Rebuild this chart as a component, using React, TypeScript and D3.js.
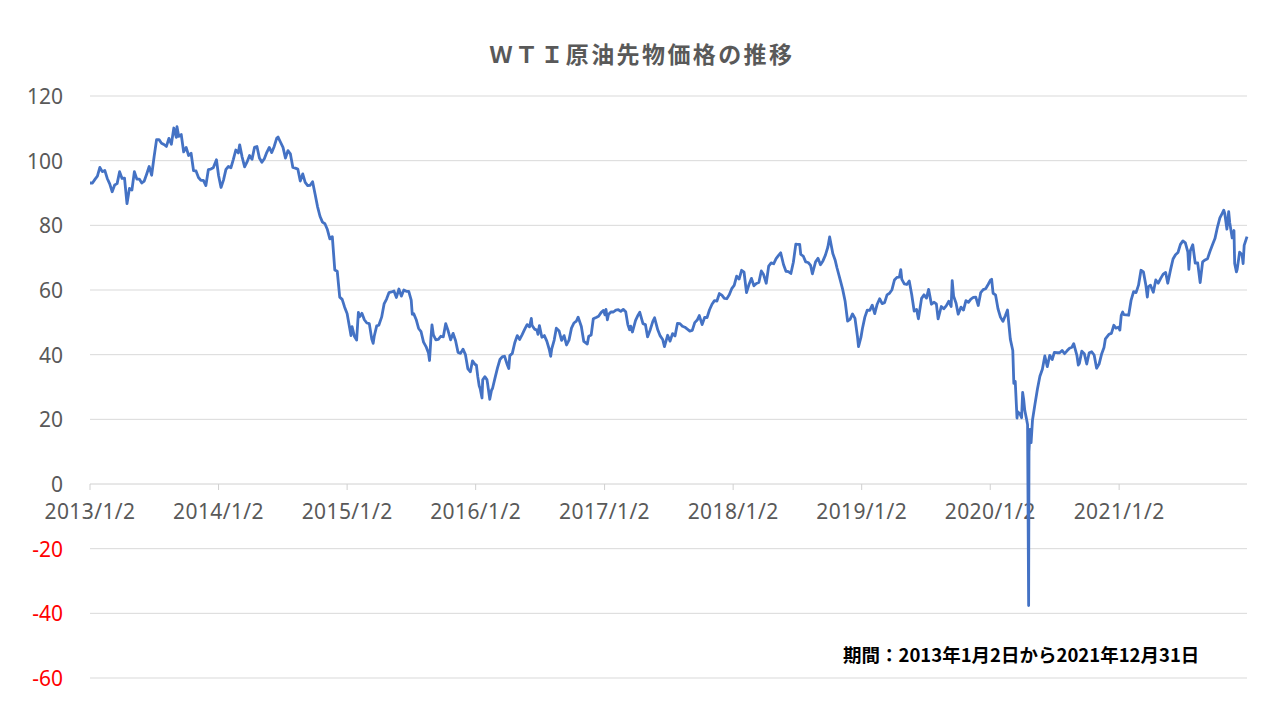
import React from 'react';
import * as d3 from 'd3';

// chart text
const chartTitle = 'ＷＴＩ原油先物価格の推移';
const periodNote = '期間：2013年1月2日から2021年12月31日';

// axes
const yTickValues = [-60, -40, -20, 0, 20, 40, 60, 80, 100, 120];
const xTickDates = [
  '2013-01-02', '2014-01-02', '2015-01-02', '2016-01-02', '2017-01-02',
  '2018-01-02', '2019-01-02', '2020-01-02', '2021-01-02',
];
const xTickLabels = [
  '2013/1/2', '2014/1/2', '2015/1/2', '2016/1/2', '2017/1/2',
  '2018/1/2', '2019/1/2', '2020/1/2', '2021/1/2',
];
const firstDay = '2013-01-02';
const lastDay = '2021-12-31';

type Pt = [string, number];

// WTI front-month price (USD/bbl), read off the reference roughly weekly
const wti2013: Pt[] = [
  ['2013-01-02', 93.1], ['2013-01-09', 93.1], ['2013-01-16', 94.2], ['2013-01-23', 95.2],
  ['2013-01-30', 97.9], ['2013-02-06', 96.6], ['2013-02-13', 97.0], ['2013-02-20', 94.5],
  ['2013-02-27', 92.8], ['2013-03-06', 90.4], ['2013-03-13', 92.5], ['2013-03-20', 92.9],
  ['2013-03-27', 96.6], ['2013-04-03', 94.5], ['2013-04-10', 94.6], ['2013-04-17', 86.7],
  ['2013-04-24', 91.4], ['2013-05-01', 90.9], ['2013-05-08', 96.6], ['2013-05-15', 94.3],
  ['2013-05-22', 94.3], ['2013-05-29', 93.1], ['2013-06-05', 93.7], ['2013-06-12', 95.9],
  ['2013-06-19', 98.2], ['2013-06-26', 95.5], ['2013-07-03', 101.2], ['2013-07-10', 106.5],
  ['2013-07-17', 106.5], ['2013-07-24', 105.4], ['2013-07-31', 105.0], ['2013-08-07', 104.4],
  ['2013-08-14', 106.9], ['2013-08-21', 105.1], ['2013-08-28', 110.1], ['2013-09-04', 107.2],
  ['2013-09-06', 110.5], ['2013-09-11', 107.5], ['2013-09-18', 108.1], ['2013-09-25', 102.7],
  ['2013-10-02', 104.1], ['2013-10-09', 101.6], ['2013-10-16', 102.3], ['2013-10-23', 96.9],
  ['2013-10-30', 96.8], ['2013-11-06', 94.8], ['2013-11-13', 93.9], ['2013-11-20', 93.9],
  ['2013-11-27', 92.3], ['2013-12-04', 97.2], ['2013-12-11', 97.4], ['2013-12-18', 97.8],
  ['2013-12-27', 100.3],
];

const wti2014: Pt[] = [
  ['2014-01-02', 95.4], ['2014-01-09', 91.7], ['2014-01-16', 94.0], ['2014-01-23', 97.3],
  ['2014-01-30', 98.2], ['2014-02-06', 97.8], ['2014-02-13', 100.4], ['2014-02-20', 103.3],
  ['2014-02-27', 102.4], ['2014-03-03', 104.9], ['2014-03-10', 101.1], ['2014-03-17', 98.1],
  ['2014-03-24', 99.6], ['2014-03-31', 101.6], ['2014-04-07', 100.4], ['2014-04-14', 104.1],
  ['2014-04-21', 104.4], ['2014-04-28', 100.8], ['2014-05-05', 99.5], ['2014-05-12', 100.6],
  ['2014-05-19', 102.6], ['2014-05-26', 104.1], ['2014-06-02', 102.5], ['2014-06-09', 104.4],
  ['2014-06-16', 106.9], ['2014-06-20', 107.3], ['2014-06-27', 105.7], ['2014-07-04', 104.1],
  ['2014-07-11', 100.8], ['2014-07-18', 103.1], ['2014-07-25', 102.1], ['2014-08-01', 97.9],
  ['2014-08-08', 97.7], ['2014-08-15', 97.4], ['2014-08-22', 93.7], ['2014-08-29', 95.9],
  ['2014-09-05', 93.3], ['2014-09-12', 92.3], ['2014-09-19', 92.4], ['2014-09-26', 93.5],
  ['2014-10-03', 89.7], ['2014-10-10', 85.8], ['2014-10-17', 82.8], ['2014-10-24', 81.0],
  ['2014-10-31', 80.5], ['2014-11-07', 78.7], ['2014-11-14', 75.8], ['2014-11-21', 76.5],
  ['2014-11-28', 66.2], ['2014-12-05', 65.8], ['2014-12-12', 57.8], ['2014-12-19', 57.1],
  ['2014-12-26', 54.7], ['2014-12-31', 53.3],
];

const wti2015: Pt[] = [
  ['2015-01-02', 52.7], ['2015-01-09', 48.4], ['2015-01-13', 45.9], ['2015-01-16', 48.7],
  ['2015-01-23', 45.6], ['2015-01-29', 44.5], ['2015-02-03', 53.1], ['2015-02-06', 51.7],
  ['2015-02-13', 52.8], ['2015-02-20', 50.8], ['2015-02-27', 49.8], ['2015-03-06', 49.6],
  ['2015-03-13', 44.8], ['2015-03-17', 43.5], ['2015-03-20', 45.7], ['2015-03-27', 48.9],
  ['2015-04-02', 49.1], ['2015-04-10', 51.6], ['2015-04-17', 55.7], ['2015-04-24', 57.2],
  ['2015-05-01', 59.2], ['2015-05-08', 59.4], ['2015-05-15', 59.7], ['2015-05-22', 57.7],
  ['2015-05-29', 60.3], ['2015-06-05', 58.1], ['2015-06-12', 60.0], ['2015-06-19', 59.6],
  ['2015-06-26', 59.6], ['2015-07-03', 56.9], ['2015-07-06', 52.5], ['2015-07-10', 52.7],
  ['2015-07-17', 50.9], ['2015-07-24', 48.1], ['2015-07-31', 47.1], ['2015-08-07', 43.9],
  ['2015-08-14', 42.5], ['2015-08-21', 40.5], ['2015-08-24', 38.2], ['2015-08-28', 45.2],
  ['2015-08-31', 49.2], ['2015-09-04', 46.1], ['2015-09-11', 44.6], ['2015-09-18', 44.7],
  ['2015-09-25', 45.7], ['2015-10-02', 45.5], ['2015-10-09', 49.6], ['2015-10-16', 47.3],
  ['2015-10-23', 44.6], ['2015-10-30', 46.6], ['2015-11-06', 44.3], ['2015-11-13', 40.7],
  ['2015-11-20', 40.4], ['2015-11-27', 41.7], ['2015-12-04', 40.0], ['2015-12-11', 35.6],
  ['2015-12-18', 34.7], ['2015-12-24', 38.1], ['2015-12-31', 37.0],
];

const wti2016: Pt[] = [
  ['2016-01-04', 36.8], ['2016-01-08', 33.2], ['2016-01-12', 30.4], ['2016-01-15', 29.4],
  ['2016-01-20', 26.6], ['2016-01-22', 32.2], ['2016-01-28', 33.2], ['2016-02-03', 32.3],
  ['2016-02-05', 30.9], ['2016-02-11', 26.2], ['2016-02-16', 29.0], ['2016-02-19', 29.6],
  ['2016-02-26', 32.8], ['2016-03-04', 35.9], ['2016-03-11', 38.5], ['2016-03-18', 39.4],
  ['2016-03-24', 39.5], ['2016-04-01', 36.8], ['2016-04-05', 35.7], ['2016-04-08', 39.7],
  ['2016-04-15', 40.4], ['2016-04-22', 43.7], ['2016-04-29', 45.9], ['2016-05-06', 44.7],
  ['2016-05-13', 46.2], ['2016-05-20', 47.8], ['2016-05-27', 49.3], ['2016-06-03', 48.6],
  ['2016-06-08', 51.2], ['2016-06-10', 49.1], ['2016-06-17', 47.9], ['2016-06-24', 47.6],
  ['2016-06-27', 46.3], ['2016-07-01', 49.0], ['2016-07-08', 45.4], ['2016-07-15', 45.9],
  ['2016-07-22', 44.2], ['2016-07-29', 41.6], ['2016-08-02', 39.5], ['2016-08-05', 41.8],
  ['2016-08-12', 44.5], ['2016-08-18', 48.2], ['2016-08-26', 47.3], ['2016-09-02', 44.4],
  ['2016-09-09', 45.9], ['2016-09-16', 43.0], ['2016-09-23', 44.5], ['2016-09-30', 48.2],
  ['2016-10-07', 49.8], ['2016-10-14', 50.4], ['2016-10-19', 51.6], ['2016-10-28', 48.7],
  ['2016-11-04', 44.1], ['2016-11-14', 43.3], ['2016-11-18', 45.7], ['2016-11-25', 46.1],
  ['2016-12-01', 51.1], ['2016-12-09', 51.5], ['2016-12-16', 51.9], ['2016-12-23', 53.0],
  ['2016-12-30', 53.7],
];

const wti2017: Pt[] = [
  ['2017-01-03', 52.3], ['2017-01-06', 54.0], ['2017-01-10', 50.8], ['2017-01-13', 52.4],
  ['2017-01-20', 53.2], ['2017-01-27', 53.2], ['2017-02-03', 53.8], ['2017-02-10', 53.9],
  ['2017-02-17', 53.4], ['2017-02-24', 54.0], ['2017-03-03', 53.3], ['2017-03-09', 49.3],
  ['2017-03-14', 47.7], ['2017-03-17', 48.8], ['2017-03-22', 47.0], ['2017-03-31', 50.6],
  ['2017-04-07', 52.2], ['2017-04-12', 53.1], ['2017-04-21', 49.6], ['2017-04-28', 49.3],
  ['2017-05-04', 45.5], ['2017-05-12', 47.8], ['2017-05-19', 50.3], ['2017-05-24', 51.4],
  ['2017-06-02', 47.7], ['2017-06-09', 45.8], ['2017-06-16', 44.7], ['2017-06-21', 42.5],
  ['2017-06-30', 46.0], ['2017-07-07', 44.2], ['2017-07-14', 46.5], ['2017-07-21', 45.8],
  ['2017-07-28', 49.7], ['2017-08-04', 49.6], ['2017-08-11', 48.8], ['2017-08-18', 48.5],
  ['2017-08-25', 47.9], ['2017-09-01', 47.3], ['2017-09-08', 47.5], ['2017-09-15', 49.9],
  ['2017-09-22', 50.7], ['2017-09-28', 52.1], ['2017-10-06', 49.3], ['2017-10-13', 51.5],
  ['2017-10-20', 51.5], ['2017-10-27', 53.9], ['2017-11-03', 55.6], ['2017-11-10', 56.7],
  ['2017-11-17', 56.6], ['2017-11-24', 58.9], ['2017-12-01', 58.4], ['2017-12-08', 57.4],
  ['2017-12-15', 57.3], ['2017-12-22', 58.5], ['2017-12-29', 60.4],
];

const wti2018: Pt[] = [
  ['2018-01-05', 61.4], ['2018-01-12', 64.3], ['2018-01-19', 63.4], ['2018-01-26', 66.1],
  ['2018-02-02', 65.5], ['2018-02-09', 59.2], ['2018-02-16', 61.7], ['2018-02-23', 63.6],
  ['2018-03-02', 61.3], ['2018-03-09', 62.0], ['2018-03-16', 62.3], ['2018-03-23', 65.9],
  ['2018-03-29', 64.9], ['2018-04-06', 62.1], ['2018-04-13', 67.4], ['2018-04-20', 68.4],
  ['2018-04-27', 68.1], ['2018-05-04', 69.7], ['2018-05-11', 70.7], ['2018-05-17', 71.5],
  ['2018-05-25', 67.9], ['2018-06-01', 65.8], ['2018-06-08', 65.7], ['2018-06-15', 65.1],
  ['2018-06-22', 68.6], ['2018-06-29', 74.2], ['2018-07-03', 74.1], ['2018-07-10', 74.1],
  ['2018-07-13', 71.0], ['2018-07-20', 70.5], ['2018-07-27', 68.7], ['2018-08-03', 68.5],
  ['2018-08-10', 67.6], ['2018-08-15', 65.0], ['2018-08-24', 68.7], ['2018-08-31', 69.8],
  ['2018-09-07', 67.8], ['2018-09-14', 69.0], ['2018-09-21', 70.8], ['2018-09-28', 73.3],
  ['2018-10-03', 76.4], ['2018-10-12', 71.3], ['2018-10-19', 69.1], ['2018-10-24', 66.8],
  ['2018-11-02', 63.1], ['2018-11-09', 60.2], ['2018-11-16', 56.5], ['2018-11-23', 50.4],
  ['2018-11-30', 50.9], ['2018-12-07', 52.6], ['2018-12-14', 51.2], ['2018-12-21', 45.6],
  ['2018-12-24', 42.5], ['2018-12-31', 45.4],
];

const wti2019: Pt[] = [
  ['2019-01-04', 48.0], ['2019-01-11', 51.6], ['2019-01-18', 53.8], ['2019-01-25', 53.7],
  ['2019-02-01', 55.3], ['2019-02-08', 52.7], ['2019-02-15', 55.6], ['2019-02-22', 57.3],
  ['2019-03-01', 55.8], ['2019-03-08', 56.1], ['2019-03-15', 58.5], ['2019-03-22', 59.0],
  ['2019-03-29', 60.1], ['2019-04-05', 63.1], ['2019-04-12', 63.9], ['2019-04-19', 64.0],
  ['2019-04-23', 66.3], ['2019-04-26', 63.3], ['2019-05-03', 61.9], ['2019-05-10', 61.7],
  ['2019-05-17', 62.8], ['2019-05-24', 58.6], ['2019-05-31', 53.5], ['2019-06-07', 54.0],
  ['2019-06-12', 51.1], ['2019-06-14', 52.5], ['2019-06-21', 57.4], ['2019-06-28', 58.5],
  ['2019-07-05', 57.5], ['2019-07-11', 60.2], ['2019-07-19', 55.6], ['2019-07-26', 56.2],
  ['2019-08-02', 55.7], ['2019-08-07', 51.1], ['2019-08-16', 54.9], ['2019-08-23', 54.2],
  ['2019-08-30', 55.1], ['2019-09-06', 56.5], ['2019-09-13', 54.9], ['2019-09-16', 62.9],
  ['2019-09-20', 58.1], ['2019-09-27', 55.9], ['2019-10-03', 52.5], ['2019-10-11', 54.7],
  ['2019-10-18', 53.8], ['2019-10-25', 56.7], ['2019-11-01', 56.2], ['2019-11-08', 57.2],
  ['2019-11-15', 57.7], ['2019-11-22', 57.8], ['2019-11-29', 55.2], ['2019-12-06', 59.2],
  ['2019-12-13', 60.1], ['2019-12-20', 60.4], ['2019-12-27', 61.7],
];

const wti2020: Pt[] = [
  ['2020-01-03', 63.1], ['2020-01-06', 63.3], ['2020-01-10', 59.0], ['2020-01-17', 58.5],
  ['2020-01-24', 54.2], ['2020-01-31', 51.6], ['2020-02-07', 50.3], ['2020-02-14', 52.1],
  ['2020-02-20', 53.8], ['2020-02-28', 44.8], ['2020-03-06', 41.3], ['2020-03-09', 31.1],
  ['2020-03-13', 31.7], ['2020-03-18', 20.4], ['2020-03-20', 22.4], ['2020-03-27', 21.5],
  ['2020-03-31', 20.5], ['2020-04-03', 28.3], ['2020-04-06', 26.1], ['2020-04-09', 22.8],
  ['2020-04-14', 20.1], ['2020-04-17', 18.3], ['2020-04-20', -37.6], ['2020-04-21', 10.0],
  ['2020-04-24', 16.9], ['2020-04-27', 12.8], ['2020-05-01', 19.8], ['2020-05-08', 24.7],
  ['2020-05-15', 29.4], ['2020-05-22', 33.3], ['2020-05-29', 35.5], ['2020-06-05', 39.6],
  ['2020-06-12', 36.3], ['2020-06-19', 39.8], ['2020-06-26', 38.5], ['2020-07-02', 40.7],
  ['2020-07-10', 40.6], ['2020-07-17', 40.6], ['2020-07-24', 41.3], ['2020-07-31', 40.3],
  ['2020-08-07', 41.2], ['2020-08-14', 42.0], ['2020-08-21', 42.3], ['2020-08-26', 43.4],
  ['2020-09-04', 39.8], ['2020-09-08', 36.8], ['2020-09-11', 37.3], ['2020-09-18', 41.1],
  ['2020-09-25', 40.3], ['2020-10-02', 37.1], ['2020-10-09', 40.6], ['2020-10-16', 40.9],
  ['2020-10-23', 39.9], ['2020-10-30', 35.8], ['2020-11-06', 37.1], ['2020-11-13', 40.1],
  ['2020-11-20', 42.2], ['2020-11-24', 44.9], ['2020-12-04', 46.3], ['2020-12-11', 46.6],
  ['2020-12-18', 49.1], ['2020-12-24', 48.2], ['2020-12-31', 48.5],
];

const wti2021: Pt[] = [
  ['2021-01-04', 47.6], ['2021-01-08', 52.2], ['2021-01-12', 53.2], ['2021-01-15', 52.4],
  ['2021-01-22', 52.3], ['2021-01-29', 52.2], ['2021-02-05', 56.9], ['2021-02-12', 59.5],
  ['2021-02-19', 59.2], ['2021-02-26', 61.5], ['2021-03-05', 66.1], ['2021-03-12', 65.6],
  ['2021-03-19', 61.4], ['2021-03-23', 57.8], ['2021-03-26', 61.0], ['2021-04-01', 61.5],
  ['2021-04-09', 59.3], ['2021-04-16', 63.1], ['2021-04-23', 62.1], ['2021-04-30', 63.6],
  ['2021-05-07', 64.9], ['2021-05-14', 65.4], ['2021-05-20', 62.1], ['2021-05-28', 66.3],
  ['2021-06-04', 69.6], ['2021-06-11', 70.9], ['2021-06-18', 71.6], ['2021-06-25', 74.1],
  ['2021-07-02', 75.2], ['2021-07-09', 74.6], ['2021-07-16', 71.8], ['2021-07-19', 66.4],
  ['2021-07-23', 72.1], ['2021-07-30', 74.0], ['2021-08-06', 68.3], ['2021-08-13', 68.4],
  ['2021-08-20', 62.3], ['2021-08-27', 68.7], ['2021-09-03', 69.3], ['2021-09-10', 69.7],
  ['2021-09-17', 72.0], ['2021-09-24', 74.0], ['2021-10-01', 75.9], ['2021-10-08', 79.4],
  ['2021-10-15', 82.3], ['2021-10-22', 83.8], ['2021-10-26', 84.7], ['2021-10-29', 83.6],
  ['2021-11-04', 78.8], ['2021-11-09', 84.2], ['2021-11-12', 80.8], ['2021-11-19', 76.1],
  ['2021-11-24', 78.4], ['2021-11-26', 68.2], ['2021-12-01', 65.6], ['2021-12-03', 66.3],
  ['2021-12-10', 71.7], ['2021-12-17', 70.9], ['2021-12-20', 68.2], ['2021-12-23', 73.8],
  ['2021-12-31', 76.5],
];

const W = 1280;
const H = 720;
const margin = { top: 96, right: 33, bottom: 42, left: 90 };
const textGray = '#595959';
const lineBlue = '#4472C4';
const labelFont = '"Noto Sans", "Noto Sans CJK JP", sans-serif';
const cjkFont = '"Noto Sans CJK JP", "Noto Sans", sans-serif';

const parseDay = d3.timeParse('%Y-%m-%d');

export default function App() {
  const series = [
    ...wti2013, ...wti2014, ...wti2015, ...wti2016, ...wti2017,
    ...wti2018, ...wti2019, ...wti2020, ...wti2021,
  ].map(([d, v]) => ({ date: parseDay(d) as Date, value: v }));

  const x = d3.scaleTime()
    .domain([parseDay(firstDay) as Date, parseDay(lastDay) as Date])
    .range([margin.left, W - margin.right]);

  const y = d3.scaleLinear()
    .domain([-60, 120])
    .range([H - margin.bottom, margin.top]);

  const line = d3.line<{ date: Date; value: number }>()
    .x(d => x(d.date))
    .y(d => y(d.value));

  const zeroY = y(0);

  return (
    <svg
      width={W}
      height={H}
      style={{ position: 'absolute', left: 0, top: 0, background: '#fff' }}
    >
      {/* gridlines */}
      {yTickValues.filter(v => v !== 0).map(v => (
        <line
          key={`g${v}`}
          x1={x.range()[0]}
          x2={x.range()[1]}
          y1={y(v)}
          y2={y(v)}
          stroke="#d9d9d9"
          strokeWidth={1}
        />
      ))}

      {/* x axis at zero */}
      <line x1={x.range()[0]} x2={x.range()[1]} y1={zeroY} y2={zeroY} stroke="#d0d0d0" strokeWidth={1} />
      {xTickDates.map(d => (
        <line
          key={`t${d}`}
          x1={x(parseDay(d) as Date)}
          x2={x(parseDay(d) as Date)}
          y1={zeroY}
          y2={zeroY + 6}
          stroke="#d0d0d0"
          strokeWidth={1}
        />
      ))}

      {/* y labels */}
      {yTickValues.map(v => (
        <text
          key={`y${v}`}
          x={63}
          y={y(v)}
          textAnchor="end"
          dominantBaseline="central"
          fontFamily={labelFont}
          fontSize={21}
          fill={v < 0 ? '#ff0000' : textGray}
        >
          {v}
        </text>
      ))}

      {/* x labels */}
      {xTickDates.map((d, i) => (
        <text
          key={`x${d}`}
          x={x(parseDay(d) as Date)}
          y={zeroY + 27}
          textAnchor="middle"
          dominantBaseline="central"
          fontFamily={labelFont}
          fontSize={21}
          letterSpacing={0.4}
          fill={textGray}
        >
          {xTickLabels[i]}
        </text>
      ))}

      {/* price line */}
      <path
        d={line(series) ?? ''}
        fill="none"
        stroke={lineBlue}
        strokeWidth={2.8}
        strokeLinejoin="round"
      />

      {/* title */}
      <text
        x={642}
        y={53}
        textAnchor="middle"
        dominantBaseline="central"
        fontFamily={cjkFont}
        fontSize={23}
        fontWeight="bold"
        letterSpacing={2.4}
        fill={textGray}
      >
        {chartTitle}
      </text>

      {/* period note */}
      <text
        x={843}
        y={654}
        dominantBaseline="central"
        fontFamily={cjkFont}
        fontSize={18.5}
        fontWeight="bold"
        fill="#000"
      >
        {periodNote}
      </text>
    </svg>
  );
}
